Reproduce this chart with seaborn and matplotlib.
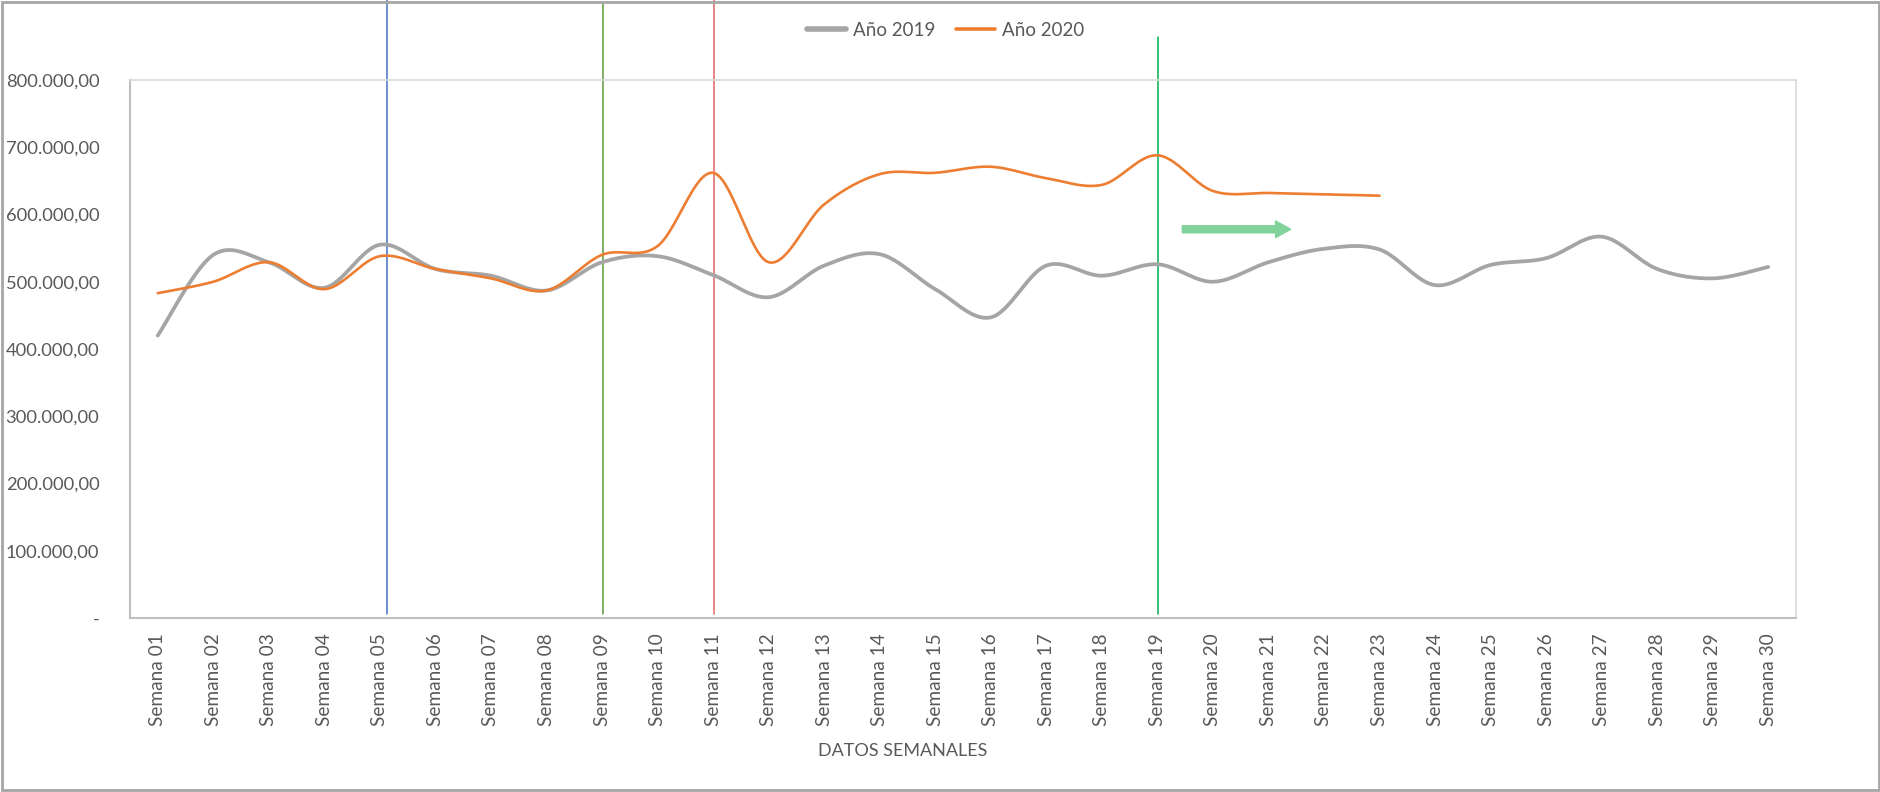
import numpy as np
import pandas as pd
import matplotlib.pyplot as plt
import seaborn as sns
from matplotlib.ticker import FuncFormatter
from matplotlib.patches import Rectangle

# Data
weeks = ["Semana %02d" % i for i in range(1, 31)]
ano_2019 = [420000, 540000, 529000, 491000, 555000, 519000, 509000, 487000, 529000, 538000,
            510000, 477000, 524000, 541000, 489000, 447000, 524000, 509000, 526000, 500000,
            529000, 549000, 548000, 495000, 525000, 535000, 567000, 519000, 505000, 522000]
ano_2020 = [483000, 500000, 529000, 489000, 538000, 519000, 505000, 487000, 540000, 553000,
            662000, 529000, 615000, 660000, 662000, 671000, 654000, 644000, 688000, 635000,
            632000, 630000, 628000]
marker_weeks = ["Semana 05", "Semana 09", "Semana 11", "Semana 19"]
marker_colors = ["#4472C4", "#5B9A3C", "#E06666", "#00B050"]
marker_shift = [0.12, 0.02, 0.02, 0.02]
marker_tops = [1.149, 1.142, 1.149, 1.080]


def smooth(y, steps=24):
    # Excel-style smoothed line (cubic Bezier through the points)
    x = np.arange(len(y), dtype=float)
    y = np.asarray(y, dtype=float)
    xs, ys = [], []
    n = len(y)
    for i in range(n - 1):
        x0, y0 = x[max(i - 1, 0)], y[max(i - 1, 0)]
        x1, y1 = x[i], y[i]
        x2, y2 = x[i + 1], y[i + 1]
        x3, y3 = x[min(i + 2, n - 1)], y[min(i + 2, n - 1)]
        c1x, c1y = x1 + (x2 - x0) / 6, y1 + (y2 - y0) / 6
        c2x, c2y = x2 - (x3 - x1) / 6, y2 - (y3 - y1) / 6
        t = np.linspace(0, 1, steps, endpoint=(i == n - 2))
        b0, b1, b2, b3 = (1 - t) ** 3, 3 * t * (1 - t) ** 2, 3 * t ** 2 * (1 - t), t ** 3
        xs.append(b0 * x1 + b1 * c1x + b2 * c2x + b3 * x2)
        ys.append(b0 * y1 + b1 * c1y + b2 * c2y + b3 * y2)
    return np.concatenate(xs), np.concatenate(ys)


sns.set_style("white")
plt.rcParams["font.family"] = ["Lato", "DejaVu Sans"]

fig = plt.figure(figsize=(18.81, 7.92), dpi=100)
ax = fig.add_axes([0.0691, 0.2197, 0.8857, 0.6793])

frames = []
for name, vals in [("Año 2019", ano_2019), ("Año 2020", ano_2020)]:
    sx, sy = smooth(vals)
    frames.append(pd.DataFrame({"x": sx, "y": sy, "serie": name}))
df = pd.concat(frames, ignore_index=True)

sns.lineplot(data=df[df["serie"] == "Año 2019"], x="x", y="y", color="#A5A5A5",
             linewidth=2.7, sort=False, estimator=None, ax=ax, label="Año 2019",
             solid_capstyle="round")
sns.lineplot(data=df[df["serie"] == "Año 2020"], x="x", y="y", color="#ED7D31",
             linewidth=1.9, sort=False, estimator=None, ax=ax, label="Año 2020",
             solid_capstyle="round")

# vertical marker lines
for wk, col, sh, top in zip(marker_weeks, marker_colors, marker_shift, marker_tops):
    ax.axvline(weeks.index(wk) + sh, ymin=0.007, ymax=top, color=col, linewidth=1.1,
               clip_on=False, zorder=1)

# green arrow
ax.annotate("", xy=(20.4, 578000), xytext=(18.45, 578000),
            arrowprops=dict(arrowstyle="simple,head_width=1.0,head_length=0.9,tail_width=0.42",
                            mutation_scale=12, color="#7FD39B", shrinkA=0, shrinkB=0))

ax.set_xlim(-0.5, 29.5)
ax.set_ylim(0, 800000)
ax.set_xticks(range(len(weeks)))
ax.set_xticklabels(weeks, rotation=90, fontsize=13.7, color="#595959")
ax.set_yticks(np.arange(0, 800001, 100000))
ax.yaxis.set_major_formatter(FuncFormatter(
    lambda v, p: "-" if v == 0 else "{:,.2f}".format(v).replace(",", "X").replace(".", ",").replace("X", ".")))
ax.tick_params(axis="y", labelsize=13.2, labelcolor="#595959", length=6, width=1,
               color="#BFBFBF", direction="out", pad=16)
ax.tick_params(axis="x", length=0, pad=11)
for lab in ax.get_yticklabels():
    lab.set_horizontalalignment("right")

for side in ["top", "right"]:
    ax.spines[side].set_color("#D9D9D9")
    ax.spines[side].set_linewidth(1.2)
for side in ["left", "bottom"]:
    ax.spines[side].set_color("#BFBFBF")
    ax.spines[side].set_linewidth(1.5)

ax.set_xlabel("DATOS SEMANALES", fontsize=13, color="#595959")
ax.xaxis.set_label_coords(0.4636, -0.232)
ax.set_ylabel("")

leg = ax.legend(loc="lower center", bbox_to_anchor=(0.4896, 1.045), ncol=2, frameon=False,
                fontsize=13.5, handlelength=2.1, columnspacing=1.1, handletextpad=0.35)
for t in leg.get_texts():
    t.set_color("#595959")
leg.legend_handles[0].set_linewidth(4)
leg.legend_handles[1].set_linewidth(2.6)

# chart border
fig.add_artist(Rectangle((0.001, 0.002), 0.998, 0.996, transform=fig.transFigure,
                         fill=False, edgecolor="#A6A6A6", linewidth=2))

fig.savefig("out.png", dpi=100)
plt.close(fig)
